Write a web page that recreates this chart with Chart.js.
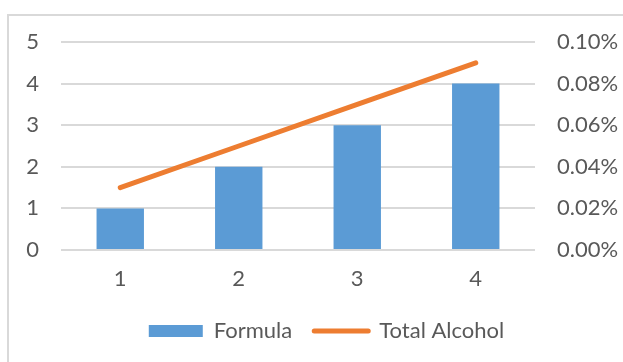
<!DOCTYPE html>
<html>
<head>
<meta charset="utf-8">
<script src="https://cdn.jsdelivr.net/npm/chart.js@4.4.1/dist/chart.umd.min.js"></script>
<style>
  html, body { margin: 0; padding: 0; background: #fff; overflow: hidden; }
  #wrap { position: relative; width: 623px; height: 362px; overflow: hidden; }
  #frame { position: absolute; left: 7px; top: 14px; width: 700px; height: 400px;
           border: 2px solid #d9d9d9; box-sizing: border-box; }
  canvas { position: absolute; left: 0; top: 0; }
</style>
</head>
<body>
<div id="wrap">
  <div id="frame"></div>
  <canvas id="c" width="623" height="362"></canvas>
</div>
<script>
// Categories and series
const categories = ['1', '2', '3', '4'];
const formulaValues = [1, 2, 3, 4];
const totalAlcohol = [0.0003, 0.0005, 0.0007, 0.0009]; // fractions, shown as %
const leftTicks = [0, 1, 2, 3, 4, 5];
const rightTicks = [0, 0.0002, 0.0004, 0.0006, 0.0008, 0.001];

const FONT = { family: 'Lato, "Open Sans", sans-serif', size: 22 };
const TEXT = '#595959';
const GRID = '#d9d9d9';

// Nudge the legend block to the right so it sits under the plot a bit off-centre
const legendShift = {
  id: 'legendShift',
  afterLayout(chart) {
    const lg = chart.legend;
    if (lg) { lg.left += 15; lg.right += 15; }
  }
};

new Chart(document.getElementById('c'), {
  data: {
    labels: categories,
    datasets: [
      {
        type: 'line',
        label: 'Total Alcohol',
        data: totalAlcohol,
        yAxisID: 'y2',
        borderColor: '#ed7d31',
        backgroundColor: '#ed7d31',
        borderWidth: 5,
        borderCapStyle: 'round',
        pointRadius: 0,
        tension: 0,
        order: 0
      },
      {
        type: 'bar',
        label: 'Formula',
        data: formulaValues,
        yAxisID: 'y',
        backgroundColor: '#5b9bd5',
        borderWidth: 0,
        categoryPercentage: 1,
        barPercentage: 0.4,
        order: 1
      }
    ]
  },
  options: {
    responsive: false,
    animation: false,
    layout: { padding: { top: 42, left: 0, right: 0, bottom: 10 } },
    scales: {
      x: {
        grid: { display: false },
        border: { display: false },
        ticks: { color: TEXT, font: FONT, padding: 8 },
        afterFit: s => { s.height = 48; }
      },
      y: {
        position: 'left',
        min: 0, max: 5,
        afterBuildTicks: s => { s.ticks = leftTicks.map(v => ({ value: v })); },
        grid: { color: GRID, lineWidth: 2, drawTicks: false },
        border: { display: false },
        ticks: { color: TEXT, font: FONT, padding: 22 },
        afterFit: s => { s.width = 61; }
      },
      y2: {
        position: 'right',
        min: 0, max: 0.001,
        afterBuildTicks: s => { s.ticks = rightTicks.map(v => ({ value: v })); },
        grid: { display: false, drawTicks: false },
        border: { display: false },
        ticks: {
          color: TEXT, font: FONT, padding: 22,
          callback: v => (v * 100).toFixed(2) + '%'
        },
        afterFit: s => { s.width = 88; }
      }
    },
    plugins: {
      tooltip: { enabled: false },
      legend: {
        position: 'bottom',
        reverse: true,
        labels: {
          color: TEXT,
          font: FONT,
          usePointStyle: true,
          pointStyleWidth: 54,
          boxHeight: 12,
          padding: 22,
          generateLabels: chart => chart.data.datasets.map((ds, i) => ({
            text: ds.label,
            datasetIndex: i,
            fillStyle: ds.backgroundColor,
            strokeStyle: ds.type === 'line' ? ds.borderColor : 'rgba(0,0,0,0)',
            lineWidth: ds.type === 'line' ? 5 : 0,
            lineCap: 'round',
            pointStyle: ds.type === 'line' ? 'line' : 'rect',
            fontColor: TEXT
          }))
        }
      }
    }
  },
  plugins: [legendShift]
});
</script>
</body>
</html>
